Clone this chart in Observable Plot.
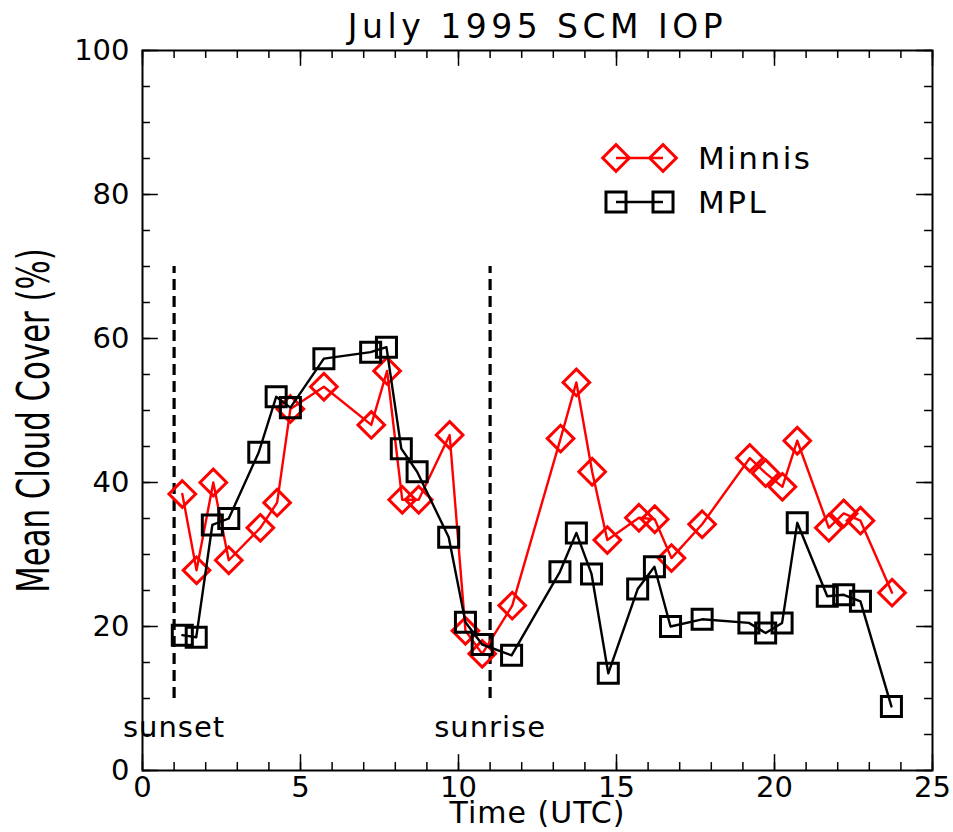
<!DOCTYPE html>
<html>
<head>
<meta charset="utf-8">
<script src="https://cdn.jsdelivr.net/npm/d3@7"></script>
<script src="https://cdn.jsdelivr.net/npm/@observablehq/plot@0.6"></script>
<style>
  html, body { margin: 0; padding: 0; background: #fff; }
  #wrap { position: relative; width: 953px; height: 832px; }
  #legend { position: absolute; left: 0; top: 0; pointer-events: none; }
</style>
</head>
<body>
<div id="wrap"></div>
<script>
// ---- Data ----
const minnisTime  = [1.26,1.71,2.24,2.73,3.73,4.26,4.68,5.74,7.24,7.74,8.22,8.74,9.72,10.22,10.75,11.70,13.23,13.73,14.23,14.71,15.71,16.21,16.74,17.71,19.22,19.72,20.25,20.72,21.72,22.19,22.72,23.72];
const minnisCover = [38.4,27.8,40.0,29.2,33.7,37.2,50.2,53.3,48.0,55.5,37.6,37.6,46.6,19.4,16.2,22.9,46.1,53.9,41.5,32.0,35.1,34.9,29.5,34.2,43.4,41.3,39.4,45.8,33.7,35.7,34.7,24.7];
const mplTime     = [1.26,1.70,2.21,2.73,3.68,4.23,4.68,5.74,7.22,7.72,8.19,8.69,9.69,10.22,10.75,11.68,13.21,13.73,14.21,14.74,15.67,16.20,16.71,17.71,19.19,19.72,20.24,20.72,21.67,22.19,22.72,23.70];
const mplCover    = [18.8,18.5,34.1,35.0,44.2,51.9,50.4,57.2,58.1,58.8,44.7,41.5,32.4,20.6,17.5,16.0,27.6,33.0,27.3,13.5,25.2,28.3,20.0,21.0,20.5,19.1,20.5,34.4,24.2,24.4,23.5,8.9];

const xMajorTicks = [0, 5, 10, 15, 20, 25];
const xMinorTicks = [0,1,2,3,4,5,6,7,8,9,10,11,12,13,14,15,16,17,18,19,20,21,22,23,24,25];
const yMajorTicks = [0, 20, 40, 60, 80, 100];
const yMinorTicks = [0,5,10,15,20,25,30,35,40,45,50,55,60,65,70,75,80,85,90,95,100];

const sunEvents = [{time: 1, label: "sunset"}, {time: 11, label: "sunrise"}];
const sunLineRange = [10, 70];
const sunLabelLevel = 6;

const titleText = "July 1995 SCM IOP";
const xLabelText = "Time (UTC)";
const yLabelText = "Mean Cloud Cover (%)";
const seriesNames = ["Minnis", "MPL"];

// ---- Build tables ----
const minnis = minnisTime.map((t, i) => ({time: t, cover: minnisCover[i]}));
const mpl = mplTime.map((t, i) => ({time: t, cover: mplCover[i]}));

const font = "'DejaVu Sans', 'Liberation Sans', sans-serif";

const chart = Plot.plot({
  width: 953,
  height: 832,
  marginLeft: 142,
  marginRight: 21,
  marginTop: 50,
  marginBottom: 62,
  style: {fontFamily: font, fontSize: "29px", color: "black", background: "white"},
  x: {domain: [0, 25]},
  y: {domain: [0, 100]},
  marks: [
    // tick labels
    Plot.axisX({ticks: xMajorTicks, tickSize: 0, tickPadding: 6, label: null, fontSize: 29}),
    Plot.axisY({ticks: yMajorTicks, tickSize: 0, tickPadding: 13, label: null, fontSize: 29}),
    // inward ticks, all four sides
    Plot.ruleX(xMinorTicks, {x: d => d, y1: 0, y2: 1.1, stroke: "black", strokeWidth: 1.5}),
    Plot.ruleX(xMajorTicks, {x: d => d, y1: 0, y2: 2.2, stroke: "black", strokeWidth: 1.5}),
    Plot.ruleX(xMinorTicks, {x: d => d, y1: 100, y2: 98.9, stroke: "black", strokeWidth: 1.5}),
    Plot.ruleX(xMajorTicks, {x: d => d, y1: 100, y2: 97.8, stroke: "black", strokeWidth: 1.5}),
    Plot.ruleY(yMinorTicks, {y: d => d, x1: 0, x2: 0.25, stroke: "black", strokeWidth: 1.5}),
    Plot.ruleY(yMajorTicks, {y: d => d, x1: 0, x2: 0.5, stroke: "black", strokeWidth: 1.5}),
    Plot.ruleY(yMinorTicks, {y: d => d, x1: 25, x2: 24.75, stroke: "black", strokeWidth: 1.5}),
    Plot.ruleY(yMajorTicks, {y: d => d, x1: 25, x2: 24.5, stroke: "black", strokeWidth: 1.5}),
    Plot.frame({stroke: "black", strokeWidth: 2}),
    // sunset / sunrise
    Plot.ruleX(sunEvents, {x: "time", y1: sunLineRange[0], y2: sunLineRange[1], stroke: "black", strokeWidth: 3.2, strokeDasharray: "11,6"}),
    Plot.text(sunEvents, {x: "time", y: sunLabelLevel, text: "label", fontSize: 29, fill: "black"}),
    // series
    Plot.line(minnis, {x: "time", y: "cover", stroke: "red", strokeWidth: 2.4}),
    Plot.dot(minnis, {x: "time", y: "cover", symbol: "diamond2", r: 12, stroke: "red", fill: "none", strokeWidth: 3}),
    Plot.line(mpl, {x: "time", y: "cover", stroke: "black", strokeWidth: 2.4}),
    Plot.dot(mpl, {x: "time", y: "cover", symbol: "square", r: 11.3, stroke: "black", fill: "none", strokeWidth: 3}),
    // titles
    Plot.text([titleText], {frameAnchor: "top", dy: -36, text: d => d, fontSize: 33, fill: "black"}),
    Plot.text([xLabelText], {frameAnchor: "bottom", dy: 52, text: d => d, fontSize: 30, fill: "black"}),
    Plot.text([yLabelText], {frameAnchor: "left", textAnchor: "middle", dx: -108, dy: 10, rotate: -90, text: d => d, fontSize: 44, fill: "black"})
  ]
});

// text styling tweaks (letter spacing / narrow rotated label)
const sel = d3.select(chart);
sel.selectAll("text").filter(function() { return this.textContent === titleText; })
  .style("letter-spacing", "4.5px");
sel.selectAll("text").filter(function() { return this.textContent === xLabelText; })
  .style("letter-spacing", "1px");
sel.selectAll("text").filter(function() { return sunEvents.some(e => e.label === this.textContent); })
  .style("letter-spacing", "1px");
sel.selectAll("text").filter(function() { return this.textContent === yLabelText; })
  .each(function() {
    const t = d3.select(this);
    t.attr("transform", (t.attr("transform") || "") + " scale(0.7,1)");
  });

const wrap = document.getElementById("wrap");
wrap.appendChild(chart);

// legend overlay
const legend = d3.create("svg")
  .attr("id", "legend")
  .attr("width", 953)
  .attr("height", 832)
  .style("font-family", font);

const legendItems = [
  {name: seriesNames[0], color: "red", symbol: d3.symbolDiamond2, size: Math.PI * 12 * 12, cy: 158},
  {name: seriesNames[1], color: "black", symbol: d3.symbolSquare, size: Math.PI * 11.3 * 11.3, cy: 202}
];
legendItems.forEach(it => {
  const g = legend.append("g");
  g.append("line").attr("x1", 616).attr("x2", 663).attr("y1", it.cy).attr("y2", it.cy)
    .attr("stroke", it.color).attr("stroke-width", 2.4);
  [616, 663].forEach(cx => {
    g.append("path").attr("d", d3.symbol(it.symbol, it.size)())
      .attr("transform", `translate(${cx},${it.cy})`)
      .attr("fill", "none").attr("stroke", it.color).attr("stroke-width", 3);
  });
  g.append("text").attr("x", 698).attr("y", it.cy + 11)
    .attr("font-size", 31).attr("fill", "black").style("letter-spacing", "2.5px")
    .text(it.name);
});
wrap.appendChild(legend.node());
</script>
</body>
</html>
